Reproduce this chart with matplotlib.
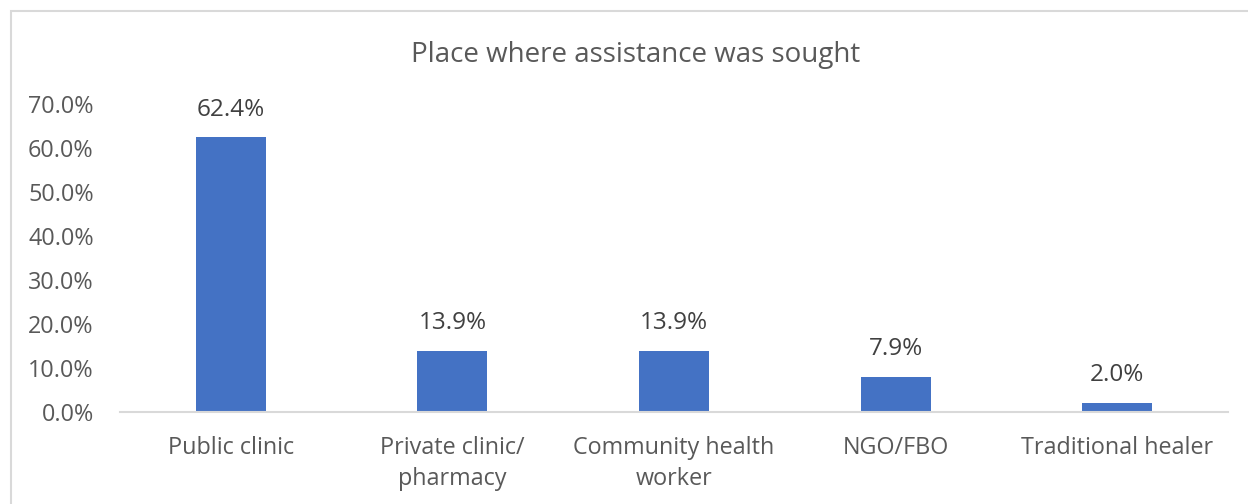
import matplotlib.pyplot as plt
from matplotlib.patches import Rectangle
from matplotlib.ticker import FuncFormatter

# Data
places = ["Public clinic", "Private clinic/\npharmacy", "Community health\nworker",
          "NGO/FBO", "Traditional healer"]
shares = [62.4, 13.9, 13.9, 7.9, 2.0]
y_ticks = [0, 10, 20, 30, 40, 50, 60, 70]

plt.rcParams['font.family'] = ['Open Sans', 'DejaVu Sans']

fig = plt.figure(figsize=(12.48, 5.04), dpi=100)
ax = fig.add_axes([0.0962, 0.1825, 0.8878, 0.6112])

# chart frame (top and left edges only show)
fig.patches.append(Rectangle((11 / 1248, -0.1), 1.2, 1 - 11 / 504 + 0.1,
                             transform=fig.transFigure, fill=False,
                             edgecolor="#D9D9D9", linewidth=1.5))

x = range(len(places))
bars = ax.bar(x, shares, width=0.316, color="#4472C4")

for b, v in zip(bars, shares):
    ax.annotate(f"{v:.1f}%", (b.get_x() + b.get_width() / 2, v),
                xytext=(0, 20), textcoords="offset points",
                ha="center", va="center", fontsize=17.5, color="#404040")

ax.set_xlim(-0.5, len(places) - 0.5)
ax.set_ylim(0, 70)
ax.set_yticks(y_ticks)
ax.yaxis.set_major_formatter(FuncFormatter(lambda v, p: f"{v:.1f}%"))
ax.set_xticks(list(x))
ax.set_xticklabels(places, linespacing=1.4)

ax.tick_params(axis="both", length=0, labelsize=16.8, labelcolor="#595959")
ax.tick_params(axis="y", pad=19)
ax.tick_params(axis="x", pad=17)

for s in ["top", "right", "left"]:
    ax.spines[s].set_visible(False)
ax.spines["bottom"].set_color("#D9D9D9")
ax.spines["bottom"].set_linewidth(1.5)

fig.text(0.509, 1 - 55 / 504, "Place where assistance was sought",
         ha="center", va="center", fontsize=20, color="#595959")

fig.savefig("out.png", dpi=100)
